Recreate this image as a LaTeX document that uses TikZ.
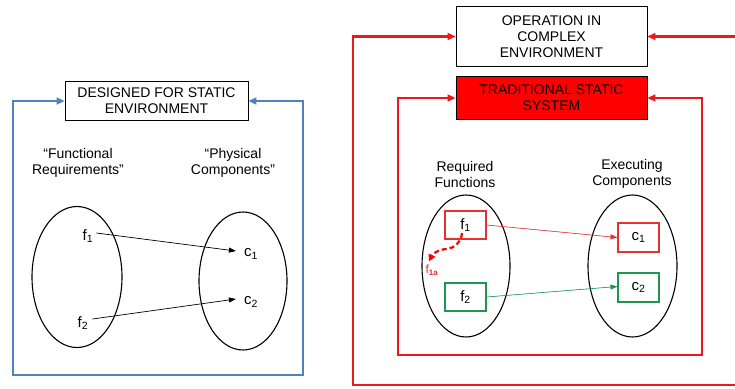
\documentclass[tikz,border=0pt]{standalone}
\usepackage{fontspec}
\setmainfont{Liberation Sans}
\usetikzlibrary{arrows.meta,shapes.geometric}
\definecolor{loopblue}{RGB}{79,129,189}
\definecolor{loopred}{RGB}{238,24,24}
\definecolor{boxred}{RGB}{255,0,0}
\definecolor{gline}{RGB}{30,150,80}
\definecolor{rline}{RGB}{228,50,50}
\tikzset{
  lbl/.style={align=center,font=\fontsize{14}{16}\selectfont,inner sep=0pt},
  sym/.style={font=\fontsize{15}{16}\selectfont,inner sep=1pt},
  titlebox/.style={draw=black,line width=0.9pt,align=center,font=\fontsize{14}{16}\selectfont,inner sep=0pt},
  ell/.style={ellipse,draw=black,line width=1.1pt,inner sep=0pt},
  fbox/.style={draw,line width=1.1pt,minimum width=41pt,minimum height=28pt,inner sep=0pt,font=\fontsize{15}{16}\selectfont},
  bigloop/.style={line width=2.6pt,{Triangle[length=8pt,width=7pt]}-{Triangle[length=8pt,width=7pt]}},
  thin/.style={line width=0.7pt,-{Triangle[length=7pt,width=5pt]}},
}
\begin{document}
\begin{tikzpicture}[x=1pt,y=-1pt]
\clip (0,0) rectangle (735,388);
\fill[white] (0,0) rectangle (735,388);

% ---------- left panel ----------
\node[titlebox,minimum width=183pt,minimum height=39pt] (ds) at (156.5,101) {DESIGNED FOR STATIC\\ENVIRONMENT};
\coordinate (BL) at (13,375);
\coordinate (BR) at (303,375);
\draw[bigloop,draw=loopblue,color=loopblue] (ds.west) -| (BL) -- (BR) |- (ds.east);

\node[lbl] (fr) at (78,162.5) {“Functional\\Requirements”};
\node[lbl] (pc) at (233,162.5) {“Physical\\Components”};

\node[ell,minimum width=90pt,minimum height=141pt] (e1) at (77,277) {};
\node[ell,minimum width=88pt,minimum height=138pt] (e2) at (243,281) {};

\node[sym] (lf1) at (88,236) {f\textsubscript{1}};
\node[sym] (lf2) at (83,323) {f\textsubscript{2}};
\node[sym] (lc1) at (251,254) {c\textsubscript{1}};
\node[sym] (lc2) at (251,302) {c\textsubscript{2}};
\draw[thin] ([shift={(2,-3)}]lf1.east) -- ([shift={(-7,-3)}]lc1.west);
\draw[thin] ([shift={(3,-4)}]lf2.east) -- ([shift={(-7,-3)}]lc2.west);

% ---------- right panel ----------
\node[titlebox,minimum width=191pt,minimum height=60pt] (op) at (551.5,36.5) {OPERATION IN\\COMPLEX\\ENVIRONMENT};
\node[titlebox,fill=boxred,minimum width=191pt,minimum height=43pt] (ts) at (551.5,98) {TRADITIONAL STATIC\\SYSTEM};

\coordinate (OL) at (353,385);
\coordinate (OR) at (745,385);
\draw[bigloop,draw=loopred,color=loopred] (op.west) -| (OL) -- (OR) |- (op.east);
\coordinate (IL) at (398,355);
\coordinate (IR) at (702,355);
\draw[bigloop,draw=loopred,color=loopred] (ts.west) -| (IL) -- (IR) |- (ts.east);

\node[lbl] (rf) at (465,174) {Required\\Functions};
\node[lbl] (ec) at (632,174) {Executing\\Components};

\node[ell,minimum width=88pt,minimum height=142pt] (e3) at (466,266) {};
\node[ell,minimum width=89pt,minimum height=142pt] (e4) at (632.5,266) {};

\node[fbox,draw=rline] (rf1) at (465.5,225) {f\textsubscript{1}};
\node[fbox,draw=gline] (rf2) at (465.5,297) {f\textsubscript{2}};
\node[fbox,draw=rline,minimum height=29pt] (rc1) at (638.5,237.5) {c\textsubscript{1}};
\node[fbox,draw=gline,minimum height=29pt] (rc2) at (638.5,287.5) {c\textsubscript{2}};

\draw[thin,draw=rline,fill=rline,line width=0.6pt] (rf1.east) -- (rc1.west);
\draw[thin,draw=gline,fill=gline,line width=0.6pt] (rf2.east) -- ([yshift=1pt]rc2.west);

\coordinate (dstart) at (462,233);
\node[text=rline,font=\fontsize{12}{14}\selectfont,inner sep=0pt] (f1a) at (432,270) {f\textsubscript{\bfseries 1a}};
\draw[red,line width=2.2pt,dash pattern=on 5pt off 3pt,-{Triangle[length=7pt,width=7pt]}]
  (dstart) to[out=-95,in=5] (446,249) to[out=185,in=65] ([shift={(-3,-3)}]f1a.north);
\end{tikzpicture}
\end{document}
